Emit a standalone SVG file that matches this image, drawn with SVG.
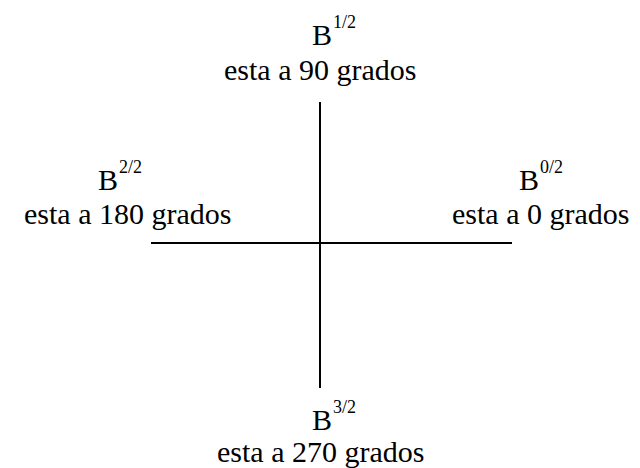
<svg xmlns="http://www.w3.org/2000/svg" width="640" height="468" viewBox="0 0 640 468">
<defs>
<marker id="none" markerWidth="1" markerHeight="1"/>
</defs>
<rect width="640" height="468" fill="#fff"/>
<g id="connectors" stroke="#000" stroke-width="2" fill="none">
<line x1="320" y1="102" x2="320" y2="388"/>
<line x1="151" y1="243" x2="512" y2="243"/>
</g>
<g id="n90">
<text x="312" y="45" font-family="Liberation Serif" font-size="30">B</text>
<text x="333" y="28" font-family="Liberation Serif" font-size="18">1/2</text>
<text x="224" y="80" font-family="Liberation Serif" font-size="30">esta a 90 grados</text>
</g>
<g id="n180">
<text x="98" y="190" font-family="Liberation Serif" font-size="30">B</text>
<text x="119" y="173" font-family="Liberation Serif" font-size="18">2/2</text>
<text x="24" y="224" font-family="Liberation Serif" font-size="30">esta a 180 grados</text>
</g>
<g id="n0">
<text x="519" y="190" font-family="Liberation Serif" font-size="30">B</text>
<text x="540" y="173" font-family="Liberation Serif" font-size="18">0/2</text>
<text x="452" y="224" font-family="Liberation Serif" font-size="30">esta a 0 grados</text>
</g>
<g id="n270">
<text x="312" y="430" font-family="Liberation Serif" font-size="30">B</text>
<text x="333" y="413" font-family="Liberation Serif" font-size="18">3/2</text>
<text x="217" y="462" font-family="Liberation Serif" font-size="30">esta a 270 grados</text>
</g>
</svg>
